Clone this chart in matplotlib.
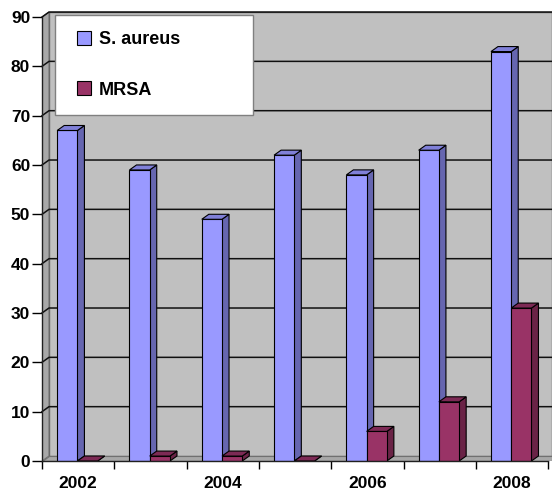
import numpy as np
import matplotlib
matplotlib.use('Agg')
import matplotlib.pyplot as plt
from matplotlib.patches import Polygon
from matplotlib.lines import Line2D

plt.rcParams['font.family'] = ['Liberation Sans', 'DejaVu Sans']
plt.rcParams['font.weight'] = 'bold'

years = [2002, 2003, 2004, 2005, 2006, 2007, 2008]
s_aureus = [67, 59, 49, 62, 58, 63, 83]
mrsa = [0, 1, 1, 0, 6, 12, 31]
yticks = list(range(0, 100, 10))
year_labels = ['2002', '', '2004', '', '2006', '', '2008']

W, H = 552, 494
fig = plt.figure(figsize=(W / 100, H / 100), dpi=100)
# plot area in pixels: x 42..552, y 461 (value 0) .. 8
ax = fig.add_axes([42 / W, 1 - 461 / H, 510 / W, 453 / H])
px_x = 72.3    # px per category
px_y = 4.933   # px per unit
ax.set_xlim(0, 510 / px_x)
ax.set_ylim(0, 453 / px_y)
ax.patch.set_visible(False)

dx = 7 / px_x   # depth offsets
dy = 5 / px_y
n = len(years)
xmax = 510 / px_x

# walls
ax.add_patch(Polygon([(dx, dy), (xmax, dy), (xmax, 90 + dy), (dx, 90 + dy)],
                     closed=True, fc='#c0c0c0', ec='#606060', lw=1, zorder=0))
ax.add_patch(Polygon([(0, 0), (dx, dy), (dx, 90 + dy), (0, 90)],
                     closed=True, fc='#a8a8a8', ec='#707070', lw=0.8, zorder=0))
ax.add_patch(Polygon([(0, 0), (xmax, 0), (xmax, dy), (dx, dy)],
                     closed=True, fc='#a8a8a8', ec='#707070', lw=0.8, zorder=0))

# gridlines
for v in yticks[1:]:
    ax.plot([0, dx, xmax], [v, v + dy, v + dy], color='#101010', lw=1.1, zorder=1,
            clip_on=False)

bw = 0.28
x0 = np.arange(n) + 0.21


def bars3d(xs, vals, face, side, top):
    ax.bar(xs, vals, width=bw, align='edge', color=face, edgecolor='black',
           lw=0.8, zorder=3)
    for x, v in zip(xs, vals):
        x1 = x + bw
        ax.add_patch(Polygon([(x1, 0), (x1 + dx, dy), (x1 + dx, v + dy), (x1, v)],
                             closed=True, fc=side, ec='black', lw=0.8, zorder=2))
        ax.add_patch(Polygon([(x, v), (x1, v), (x1 + dx, v + dy), (x + dx, v + dy)],
                             closed=True, fc=top, ec='black', lw=0.8, zorder=3))


bars3d(x0, s_aureus, '#9999ff', '#6666b0', '#8080d8')
bars3d(x0 + bw, mrsa, '#993366', '#6a2346', '#7d2a55')

# axes
for s in ['top', 'right']:
    ax.spines[s].set_visible(False)
ax.spines['left'].set_bounds(0, 90)
ax.spines['bottom'].set_bounds(0, n)
for s in ['left', 'bottom']:
    ax.spines[s].set_color('#202020')
    ax.spines[s].set_linewidth(1)
    ax.spines[s].set_zorder(4)

ax.set_yticks(yticks)
ax.set_yticklabels([str(v) for v in yticks], fontsize=12.5, fontweight='bold')
ax.tick_params(axis='y', direction='out', length=7, width=1, pad=1.5)

ax.set_xticks(np.arange(n + 1))
ax.set_xticklabels([])
ax.tick_params(axis='x', which='major', direction='out', length=6, width=1)
ax.set_xticks(np.arange(n) + 0.5, minor=True)
ax.set_xticklabels(year_labels, minor=True, fontsize=12.5, fontweight='bold')
ax.tick_params(axis='x', which='minor', length=0, pad=11)

handles = [Line2D([], [], ls='none', marker='s', ms=10.5, mfc='#9999ff',
                  mec='black', mew=0.8, label='S. aureus'),
           Line2D([], [], ls='none', marker='s', ms=10.5, mfc='#993366',
                  mec='black', mew=0.8, label='MRSA')]
leg = ax.legend(handles=handles, loc='upper left', mode='expand',
                bbox_to_anchor=(55 / W, 0, 198 / W, 1 - 15 / H),
                bbox_transform=fig.transFigure, borderaxespad=0,
                prop={'size': 13, 'weight': 'bold'}, fancybox=False,
                framealpha=1, edgecolor='#808080', labelspacing=1.85,
                borderpad=0.9, handlelength=1.4, handletextpad=0.15)
leg.get_frame().set_linewidth(1)
leg.set_zorder(10)

fig.savefig('out.png', dpi=100)
